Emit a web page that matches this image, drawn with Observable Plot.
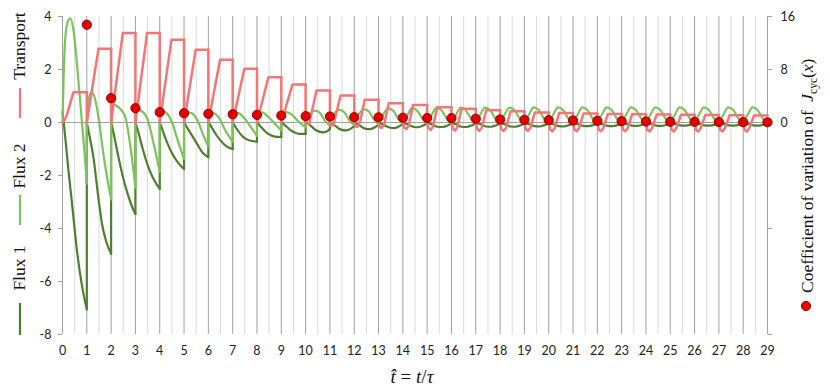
<!DOCTYPE html>
<html><head><meta charset="utf-8">
<script src="https://cdn.jsdelivr.net/npm/d3@7"></script>
<script src="https://cdn.jsdelivr.net/npm/@observablehq/plot@0.6"></script>
<style>body{margin:0;background:#fff}#chart{width:830px;height:389px}</style>
</head><body><div id="chart"></div>
<script>
// ---- data ----
const xTicks = [0,1,2,3,4,5,6,7,8,9,10,11,12,13,14,15,16,17,18,19,20,21,22,23,24,25,26,27,28,29];
const halfTicks = [0.5,1.5,2.5,3.5,4.5,5.5,6.5,7.5,8.5,9.5,10.5,11.5,12.5,13.5,14.5,15.5,16.5,17.5,18.5,19.5,20.5,21.5,22.5,23.5,24.5,25.5,26.5,27.5,28.5];
const leftTicks = [4,2,0,-2,-4,-6,-8];
const rightTickValues = [16,8,0,-16,-32];
const rightTickLabels = ["16","8","0","",""];
const rightPerLeft = 4; // right axis unit = left axis unit x 4

// Transport (red), one array per cycle of [t, value]
const transport = [
 [[0,0],[0.08,0.08],[0.18,0.28],[0.31,0.7],[0.45,1.14],[1,1.14]],
 [[1,0],[1.48,2.78],[2,2.78]],
 [[2,0],[2.48,3.38],[3,3.38]],
 [[3,0],[3.48,3.38],[4,3.38]],
 [[4,0],[4.48,3.12],[5,3.12]],
 [[5,0],[5.48,2.75],[6,2.75]],
 [[6,0],[6.48,2.37],[7,2.37]],
 [[7,0],[7.48,2.03],[8,2.03]],
 [[8,0],[8.47,1.71],[9,1.71]],
 [[9,0],[9.46,1.43],[10,1.43]],
 [[10,0],[10.06,-0.06],[10.15,-0.04],[10.45,1.21],[11,1.21]],
 [[11,0],[11.06,-0.1],[11.14,-0.1],[11.44,1.02],[12,1.02]],
 [[12,0],[12.06,-0.15],[12.14,-0.16],[12.25,0.05],[12.43,0.86],[13,0.86]],
 [[13,0],[13.06,-0.18],[13.14,-0.2],[13.24,-0.05],[13.42,0.73],[14,0.73]],
 [[14,0],[14.06,-0.2],[14.15,-0.25],[14.24,-0.12],[14.42,0.66],[15,0.66]],
 [[15,0],[15.06,-0.22],[15.15,-0.28],[15.24,-0.15],[15.42,0.58],[16,0.58]],
 [[16,0],[16.06,-0.24],[16.15,-0.3],[16.24,-0.18],[16.42,0.52],[17,0.52]],
 [[17,0],[17.06,-0.25],[17.15,-0.31],[17.25,-0.2],[17.43,0.46],[18,0.46]],
 [[18,0],[18.06,-0.26],[18.15,-0.32],[18.25,-0.2],[18.43,0.42],[19,0.42]],
 [[19,0],[19.06,-0.26],[19.15,-0.32],[19.25,-0.2],[19.43,0.38],[20,0.38]],
 [[20,0],[20.06,-0.27],[20.15,-0.33],[20.25,-0.21],[20.43,0.36],[21,0.36]],
 [[21,0],[21.06,-0.27],[21.15,-0.33],[21.25,-0.21],[21.43,0.34],[22,0.34]],
 [[22,0],[22.06,-0.27],[22.15,-0.33],[22.25,-0.21],[22.43,0.32],[23,0.32]],
 [[23,0],[23.06,-0.27],[23.15,-0.33],[23.25,-0.22],[23.43,0.31],[24,0.31]],
 [[24,0],[24.06,-0.28],[24.15,-0.34],[24.25,-0.22],[24.44,0.3],[25,0.3]],
 [[25,0],[25.06,-0.28],[25.15,-0.34],[25.25,-0.22],[25.44,0.29],[26,0.29]],
 [[26,0],[26.06,-0.28],[26.15,-0.34],[26.25,-0.22],[26.44,0.28],[27,0.28]],
 [[27,0],[27.06,-0.28],[27.15,-0.34],[27.25,-0.22],[27.44,0.27],[28,0.27]],
 [[28,0],[28.06,-0.28],[28.15,-0.34],[28.25,-0.22],[28.44,0.26],[29,0.26]]
];

// Flux 2 (light green)
const flux2 = [
 [[0,0],[0.04,1.5],[0.1,3.0],[0.2,3.75],[0.32,3.93],[0.45,3.5],[0.62,1.95],[0.8,0],[0.9,-1.05],[1,-2.3]],
 [[1,0],[1.07,0.85],[1.2,1.15],[1.32,0.95],[1.48,0.2],[1.7,-1.3],[1.85,-2.15],[2,-2.9]],
 [[2,0.7],[2.15,0.66],[2.3,0.58],[2.45,0.43],[2.6,0.15],[2.8,-0.95],[3,-2.45]],
 [[3,0.52],[3.15,0.48],[3.33,0.38],[3.5,0.12],[3.75,-0.8],[4,-1.85]],
 [[4,0.45],[4.15,0.43],[4.3,0.34],[4.5,0.02],[4.75,-0.7],[5,-1.38]],
 [[5,0.4],[5.2,0.38],[5.4,0.3],[5.6,-0.02],[5.8,-0.5],[6,-0.9]],
 [[6,0.38],[6.2,0.36],[6.45,0.16],[6.7,-0.3],[7,-0.72]],
 [[7,0.36],[7.2,0.36],[7.5,0.14],[7.75,-0.18],[8,-0.5]],
 [[8,0.3],[8.2,0.38],[8.5,0.18],[8.75,-0.06],[9,-0.3]],
 [[9,0.2],[9.2,0.4],[9.45,0.28],[9.75,0],[10,-0.18]],
 [[10,0.1],[10.2,0.36],[10.4,0.45],[10.6,0.35],[10.8,0.06],[11,-0.12]],
 [[11,0.05],[11.2,0.36],[11.4,0.48],[11.6,0.38],[11.8,0.08],[12,-0.1]],
 [[12,0.02],[12.2,0.34],[12.4,0.5],[12.6,0.42],[12.8,0.12],[13,-0.07]],
 [[13,0],[13.2,0.32],[13.4,0.52],[13.6,0.45],[13.8,0.15],[14,-0.05]],
 [[14,-0.03],[14.2,0.3],[14.38,0.54],[14.58,0.46],[14.8,0.15],[15,-0.03]],
 [[15,-0.03],[15.2,0.31],[15.38,0.55],[15.58,0.47],[15.8,0.16],[16,-0.03]],
 [[16,-0.03],[16.2,0.31],[16.38,0.56],[16.58,0.47],[16.8,0.16],[17,-0.03]],
 [[17,-0.03],[17.2,0.32],[17.38,0.56],[17.58,0.48],[17.8,0.16],[18,-0.03]],
 [[18,-0.03],[18.2,0.32],[18.38,0.56],[18.58,0.48],[18.8,0.16],[19,-0.03]],
 [[19,-0.03],[19.2,0.32],[19.38,0.57],[19.58,0.48],[19.8,0.16],[20,-0.03]],
 [[20,-0.03],[20.2,0.32],[20.38,0.57],[20.58,0.48],[20.8,0.16],[21,-0.03]],
 [[21,-0.03],[21.2,0.32],[21.38,0.57],[21.58,0.48],[21.8,0.16],[22,-0.03]],
 [[22,-0.03],[22.2,0.32],[22.38,0.57],[22.58,0.48],[22.8,0.16],[23,-0.03]],
 [[23,-0.03],[23.2,0.32],[23.38,0.57],[23.58,0.48],[23.8,0.16],[24,-0.03]],
 [[24,-0.03],[24.2,0.32],[24.38,0.57],[24.58,0.48],[24.8,0.16],[25,-0.03]],
 [[25,-0.03],[25.2,0.32],[25.38,0.57],[25.58,0.48],[25.8,0.16],[26,-0.03]],
 [[26,-0.03],[26.2,0.32],[26.38,0.57],[26.58,0.48],[26.8,0.16],[27,-0.03]],
 [[27,-0.03],[27.2,0.32],[27.38,0.57],[27.58,0.48],[27.8,0.16],[28,-0.03]],
 [[28,-0.03],[28.2,0.32],[28.38,0.57],[28.58,0.48],[28.8,0.16],[29,-0.03]]
];

// Flux 1 (dark green)
const flux1 = [
 [[0,0.4],[0.05,0],[0.15,-0.9],[0.25,-1.85],[0.38,-2.95],[0.59,-4.8],[0.79,-6.1],[1,-7.05]],
 [[1,0],[1.1,-0.45],[1.27,-1.3],[1.49,-2.94],[1.62,-3.8],[1.8,-4.5],[2,-4.95]],
 [[2,0],[2.1,-0.4],[2.3,-1.3],[2.5,-2.1],[2.7,-2.75],[2.85,-3.15],[3,-3.45]],
 [[3,0],[3.1,-0.3],[3.3,-1.0],[3.5,-1.6],[3.7,-2.05],[3.85,-2.3],[4,-2.5]],
 [[4,0],[4.1,-0.25],[4.3,-0.75],[4.5,-1.15],[4.7,-1.45],[4.85,-1.62],[5,-1.75]],
 [[5,0],[5.1,-0.15],[5.25,-0.37],[5.53,-0.8],[5.8,-1.18],[6,-1.31]],
 [[6,0],[6.15,-0.2],[6.35,-0.5],[6.62,-0.8],[6.85,-0.95],[7,-1.0]],
 [[7,0],[7.1,-0.15],[7.44,-0.55],[7.7,-0.68],[8,-0.72]],
 [[8,0],[8.12,-0.12],[8.45,-0.42],[8.72,-0.53],[9,-0.55]],
 [[9,0],[9.12,-0.08],[9.45,-0.33],[9.75,-0.43],[10,-0.43]],
 [[10,0],[10.15,-0.08],[10.45,-0.3],[10.7,-0.37],[10.88,-0.33],[11,-0.25]],
 [[11,-0.02],[11.15,-0.08],[11.45,-0.27],[11.68,-0.3],[11.88,-0.22],[12,-0.14]],
 [[12,-0.02],[12.15,-0.07],[12.45,-0.23],[12.65,-0.25],[12.87,-0.17],[13,-0.09]],
 [[13,-0.02],[13.15,-0.06],[13.45,-0.19],[13.65,-0.21],[13.87,-0.13],[14,-0.05]],
 [[14,-0.02],[14.15,-0.05],[14.42,-0.16],[14.62,-0.18],[14.85,-0.11],[15,-0.03]],
 [[15,-0.02],[15.15,-0.05],[15.42,-0.16],[15.62,-0.17],[15.85,-0.11],[16,-0.03]],
 [[16,-0.02],[16.15,-0.05],[16.42,-0.16],[16.62,-0.17],[16.85,-0.1],[17,-0.03]],
 [[17,-0.02],[17.15,-0.05],[17.42,-0.15],[17.62,-0.16],[17.85,-0.1],[18,-0.03]],
 [[18,-0.02],[18.15,-0.05],[18.42,-0.15],[18.62,-0.16],[18.85,-0.1],[19,-0.03]],
 [[19,-0.02],[19.15,-0.05],[19.42,-0.14],[19.62,-0.15],[19.85,-0.09],[20,-0.03]],
 [[20,-0.02],[20.15,-0.05],[20.42,-0.14],[20.62,-0.15],[20.85,-0.09],[21,-0.03]],
 [[21,-0.02],[21.15,-0.05],[21.42,-0.13],[21.62,-0.14],[21.85,-0.09],[22,-0.03]],
 [[22,-0.02],[22.15,-0.05],[22.42,-0.13],[22.62,-0.14],[22.85,-0.09],[23,-0.03]],
 [[23,-0.02],[23.15,-0.04],[23.42,-0.12],[23.62,-0.13],[23.85,-0.08],[24,-0.03]],
 [[24,-0.02],[24.15,-0.04],[24.42,-0.12],[24.62,-0.13],[24.85,-0.08],[25,-0.03]],
 [[25,-0.02],[25.15,-0.04],[25.42,-0.11],[25.62,-0.12],[25.85,-0.08],[26,-0.03]],
 [[26,-0.02],[26.15,-0.04],[26.42,-0.11],[26.62,-0.12],[26.85,-0.08],[27,-0.03]],
 [[27,-0.02],[27.15,-0.04],[27.42,-0.11],[27.62,-0.12],[27.85,-0.08],[28,-0.03]],
 [[28,-0.02],[28.15,-0.04],[28.42,-0.11],[28.62,-0.12],[28.85,-0.08],[29,-0.03]]
];

// Coefficient of variation of J_cyc(x) (right axis)
const cvT = [1,2,3,4,5,6,7,8,9,10,11,12,13,14,15,16,17,18,19,20,21,22,23,24,25,26,27,28,29];
const cvV = [14.75,3.67,2.16,1.56,1.4,1.31,1.25,1.15,1.05,0.95,0.9,0.8,0.78,0.72,0.68,0.65,0.56,0.45,0.4,0.35,0.3,0.25,0.2,0.15,0.12,0.1,0.07,0.05,0.04];

// ---- styling ----
const RED = "#f37676", LIGHT = "#7cc35c", DARK = "#4d7f2f";
const GRID = "#a0a0a0", HALF = "#dadada";

const rows = cycles => cycles.flatMap((c, i) => c.map(([t, v]) => ({t, v, seg: i})));
const jumps = cycles => cycles.slice(1).map((c, i) => ({t: c[0][0], v1: cycles[i][cycles[i].length - 1][1], v2: c[0][1]}));
const series = (cycles, color, curve, w) => [
  Plot.line(rows(cycles), {x: "t", y: "v", z: "seg", stroke: color, strokeWidth: w, curve, strokeLinejoin: "round", strokeLinecap: "round"}),
  Plot.link(jumps(cycles), {x1: "t", x2: "t", y1: "v1", y2: "v2", stroke: color, strokeWidth: w, strokeLinecap: "round"})
];

const chart = Plot.plot({
  width: 830, height: 389,
  marginLeft: 62, marginRight: 63, marginTop: 16, marginBottom: 55,
  x: {domain: [0, 29], axis: null},
  y: {domain: [-8, 4], axis: null},
  style: {fontFamily: "Lato, 'Open Sans', sans-serif", fontSize: "12.5px", background: "#fff", color: "#222", overflow: "visible"},
  marks: [
    Plot.ruleX(halfTicks, {stroke: HALF, strokeWidth: 1}),
    Plot.ruleX(xTicks, {stroke: GRID, strokeWidth: 1}),
    Plot.ruleY([0], {stroke: GRID, strokeWidth: 1}),
    Plot.axisY({anchor: "left", ticks: leftTicks, tickSize: 4, tickPadding: 7, stroke: GRID, fill: "#222", label: null, tickFormat: d => String(d)}),
    Plot.axisY({anchor: "right", ticks: rightTickValues.map(v => v / rightPerLeft), tickSize: 4, tickPadding: 9, stroke: GRID, fill: "#222", label: null,
      tickFormat: d => rightTickLabels[rightTickValues.indexOf(d * rightPerLeft)]}),
    Plot.axisX({anchor: "bottom", ticks: xTicks, tickSize: 0, tickPadding: 12, fill: "#222", label: null, tickFormat: d => String(d)}),
    ...series(flux1, DARK, "monotone-x", 2.2),
    ...series(flux2, LIGHT, "monotone-x", 2.2),
    ...series(transport, RED, "linear", 2.5),
    Plot.dot(cvT.map((t, i) => ({t, v: cvV[i] / rightPerLeft})), {x: "t", y: "v", r: 4.6, fill: "#e50000", stroke: "#990000", strokeWidth: 1})
  ]
});
document.getElementById("chart").appendChild(chart);

// ---- text annotations & legends ----
const svg = d3.select(chart);
const serif = "'Liberation Serif', 'Times New Roman', serif";
function vlabel(text, x, y) {
  svg.append("text").attr("transform", `translate(${x},${y}) rotate(-90)`)
    .attr("text-anchor", "middle").attr("font-family", serif).attr("font-size", 17.5).attr("fill", "#111").text(text);
}
vlabel("Transport", 25, 46);
vlabel("Flux 2", 25, 166);
vlabel("Flux 1", 25, 268);
function vline(color, y1, y2) {
  svg.append("line").attr("x1", 20).attr("x2", 20).attr("y1", y1).attr("y2", y2)
    .attr("stroke", color).attr("stroke-width", 2.2);
}
vline(RED, 88, 118);
vline(LIGHT, 195, 225);
vline(DARK, 303, 335);

// right-axis title
const rt = svg.append("text").attr("transform", "translate(813,293) rotate(-90)")
  .attr("text-anchor", "start")
  .attr("font-family", serif).attr("font-size", 17.5).attr("fill", "#111");
rt.append("tspan").text("Coefficient of variation of ");
rt.append("tspan").attr("font-style", "italic").attr("dx", 4).text("J");
rt.append("tspan").attr("font-size", 11.5).attr("dy", 4).text("cyc");
rt.append("tspan").attr("dy", -4).text("(");
rt.append("tspan").attr("font-style", "italic").text("x");
rt.append("tspan").text(")");
svg.append("circle").attr("cx", 806).attr("cy", 306).attr("r", 4.6).attr("fill", "#e50000").attr("stroke", "#990000");

// x-axis title
const xt = svg.append("text").attr("x", 412).attr("y", 383).attr("text-anchor", "middle")
  .attr("font-family", serif).attr("font-size", 19).attr("fill", "#111");
xt.append("tspan").attr("font-style", "italic").text("t\u0302");
xt.append("tspan").text(" = ");
xt.append("tspan").attr("font-style", "italic").text("t");
xt.append("tspan").text("/");
xt.append("tspan").attr("font-style", "italic").text("\u03C4");
</script>
</body></html>
